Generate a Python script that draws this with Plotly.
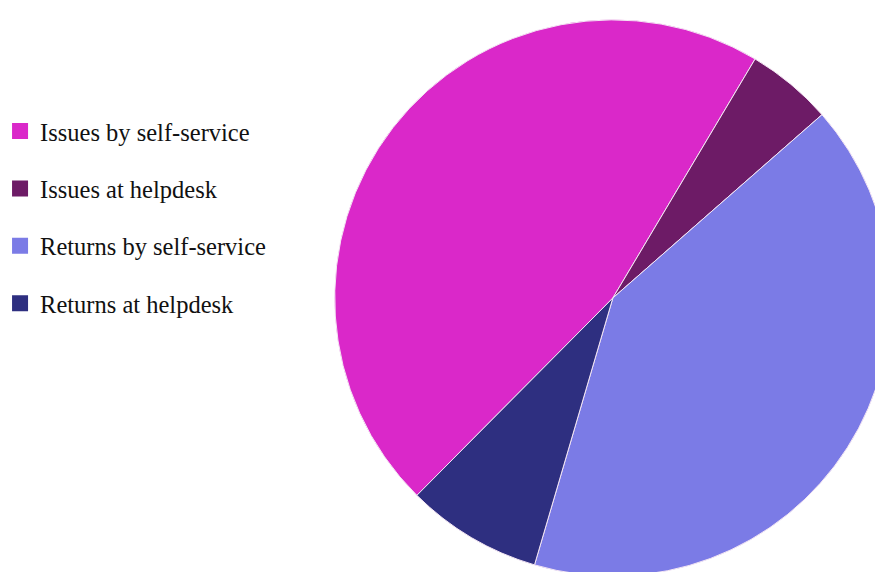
import plotly.graph_objects as go

labels = ["Issues by self-service", "Issues at helpdesk", "Returns by self-service", "Returns at helpdesk"]
values = [46.1, 5.0, 41.0, 7.9]
colors = ["#DA28C9", "#6D1B66", "#7B7BE6", "#2E2F80"]

fig = go.Figure()

fig.add_trace(go.Pie(
    labels=labels,
    values=values,
    sort=False,
    direction="clockwise",
    rotation=224.8,
    textinfo="none",
    showlegend=False,
    marker=dict(colors=colors, line=dict(color="#F4E6F4", width=1)),
    domain=dict(x=[0.37, 1.0], y=[0.0, 0.986]),
))

# legend entries
for lab, col in zip(labels, colors):
    fig.add_trace(go.Scatter(
        x=[None], y=[None], mode="markers", name=lab,
        legendgroup=lab,
        marker=dict(symbol="square", size=17, color=col),
        hoverinfo="skip",
    ))

fig.update_layout(
    width=883, height=572,
    margin=dict(l=0, r=0, t=0, b=0, autoexpand=False),
    paper_bgcolor="white", plot_bgcolor="white",
    xaxis=dict(visible=False), yaxis=dict(visible=False),
    showlegend=True,
    legend=dict(
        x=-0.009, y=0.824, xanchor="left", yanchor="top",
        font=dict(family="Liberation Serif", size=24.5, color="#111111"),
        tracegroupgap=22.5,
        bgcolor="rgba(0,0,0,0)",
    ),
)

fig.write_html("out.html")
